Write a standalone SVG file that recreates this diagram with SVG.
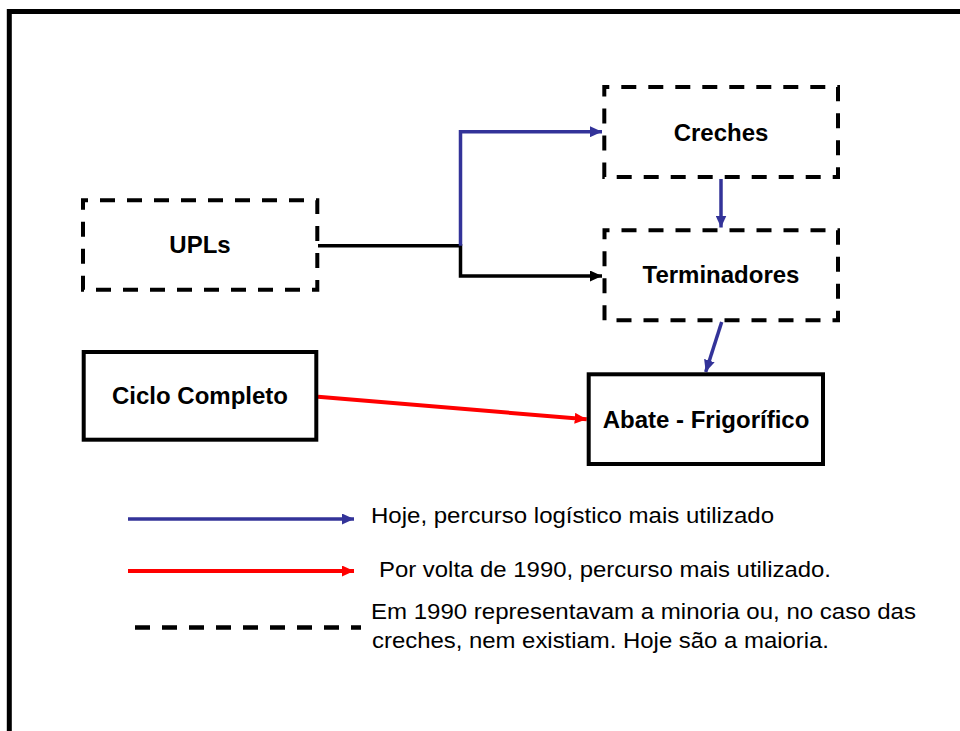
<svg xmlns="http://www.w3.org/2000/svg" width="960" height="731" viewBox="0 0 960 731">
  <style>
    .frame { fill: none; stroke: #000; }
    .solid { fill: #fff; stroke: #000; stroke-width: 4; }
    .dashed { fill: #fff; stroke: #000; stroke-width: 4; stroke-dasharray: 15 12; stroke-dashoffset: 10; }
    .label { font-family: "Liberation Sans", Arial, sans-serif; font-weight: bold; font-size: 24px; fill: #000; text-anchor: middle; }
    .note { font-family: "Liberation Sans", Arial, sans-serif; font-size: 22px; fill: #000; }
    .link { fill: none; stroke-width: 3.5; }
    .blue { stroke: #333399; }
    .black { stroke: #000; }
    .red { stroke: #ff0000; stroke-width: 4; }
  </style>
  <defs>
    <marker id="arrow-blue" markerUnits="userSpaceOnUse" markerWidth="12" markerHeight="11" refX="12" refY="5.5" orient="auto">
      <path d="M0,0 L12,5.5 L0,11 z" fill="#333399"/>
    </marker>
    <marker id="arrow-black" markerUnits="userSpaceOnUse" markerWidth="12" markerHeight="11" refX="12" refY="5.5" orient="auto">
      <path d="M0,0 L12,5.5 L0,11 z" fill="#000"/>
    </marker>
    <marker id="arrow-red" markerUnits="userSpaceOnUse" markerWidth="12" markerHeight="11" refX="12" refY="5.5" orient="auto">
      <path d="M0,0 L12,5.5 L0,11 z" fill="#ff0000"/>
    </marker>
  </defs>

  <rect width="960" height="731" fill="#fff"/>

  <!-- page frame (top and left edges) -->
  <path class="frame" d="M9.3,731 V11.5 H960" stroke-width="5"/>

  <!-- connectors -->
  <g id="connectors">
    <path class="link black" d="M318,245.7 H460.5 V276 H602" marker-end="url(#arrow-black)"/>
    <path class="link blue" d="M460.5,245.7 V131.7 H602" marker-end="url(#arrow-blue)"/>
    <path class="link blue" d="M721,179 V227.5" marker-end="url(#arrow-blue)"/>
    <path class="link blue" d="M721.7,322 L705.7,372" marker-end="url(#arrow-blue)"/>
    <path class="link red" d="M318,396.7 L586.7,419.3" marker-end="url(#arrow-red)"/>
  </g>

  <!-- nodes -->
  <g id="node-upls">
    <rect class="dashed" x="83" y="200.3" width="234.3" height="89.4"/>
    <text class="label" x="200" y="253.3">UPLs</text>
  </g>
  <g id="node-creches">
    <rect class="dashed" x="604.3" y="87" width="233.7" height="90"/>
    <text class="label" x="721" y="141">Creches</text>
  </g>
  <g id="node-terminadores">
    <rect class="dashed" x="604.5" y="230.3" width="233.5" height="90"/>
    <text class="label" x="721" y="283.3">Terminadores</text>
  </g>
  <g id="node-ciclo">
    <rect class="solid" x="83.7" y="352" width="232.6" height="87.7"/>
    <text class="label" x="200" y="404.3">Ciclo Completo</text>
  </g>
  <g id="node-abate">
    <rect class="solid" x="588.7" y="374.3" width="234.3" height="89.7"/>
    <text class="label" x="706" y="428.3">Abate - Frigorífico</text>
  </g>

  <!-- legend -->
  <g id="legend">
    <path class="link blue" d="M128,519 H354" marker-end="url(#arrow-blue)"/>
    <path class="link red" d="M128,571 H354" marker-end="url(#arrow-red)"/>
    <path d="M135,627.5 H361" stroke="#000" stroke-width="4.5" stroke-dasharray="15 12"/>
    <text class="note" x="371" y="523.3" textLength="403" lengthAdjust="spacingAndGlyphs">Hoje, percurso logístico mais utilizado</text>
    <text class="note" x="379" y="576.7" textLength="452" lengthAdjust="spacingAndGlyphs">Por volta de 1990, percurso mais utilizado.</text>
    <text class="note" x="371" y="618.5" textLength="545" lengthAdjust="spacingAndGlyphs">Em 1990 representavam a minoria ou, no caso das</text>
    <text class="note" x="372" y="648" textLength="457" lengthAdjust="spacingAndGlyphs">creches, nem existiam. Hoje são a maioria.</text>
  </g>
</svg>
